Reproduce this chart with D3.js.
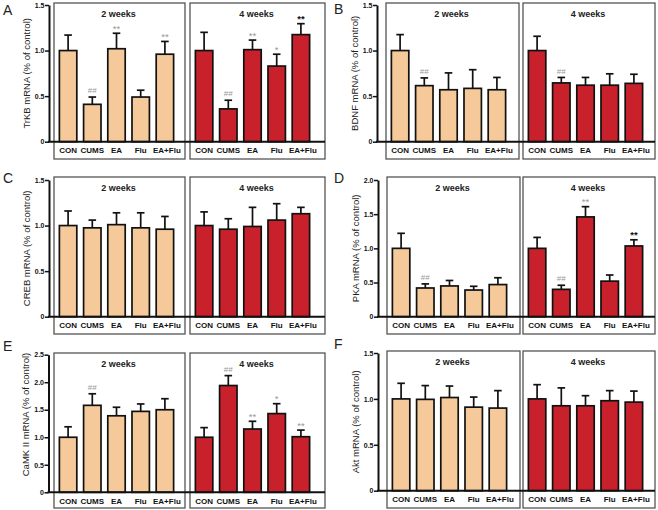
<!DOCTYPE html>
<html><head><meta charset="utf-8">
<script src="https://cdn.jsdelivr.net/npm/d3@7/dist/d3.min.js"></script>
<style>
html,body{margin:0;padding:0;background:#fff;}
svg{display:block;font-family:"Liberation Sans",Arial,sans-serif;}
</style></head>
<body><svg id="chart" width="658" height="510"></svg>
<script>
// ---------- data ----------
const categories = ["CON","CUMS","EA","Flu","EA+Flu"];
const groups = ["2 weeks","4 weeks"];
const panelLetters = ["A","B","C","D","E","F"];
const yLabels = ["TrKB mRNA (% of control)","BDNF mRNA (% of control)","CREB mRNA (% of control)",
                 "PKA mRNA (% of control)","CaMK II mRNA (% of control)","Akt mRNA (% of control)"];
const yMax = [1.5, 1.5, 1.5, 2.0, 2.5, 1.5];
const tickLabels = [
  ["0","0.5","1.0","1.5"],["0","0.5","1.0","1.5"],["0","0.5","1.0","1.5"],
  ["0","0.5","1.0","1.5","2.0"],["0","0.5","1.0","1.5","2.0","2.5"],["0","0.5","1.0","1.5"]];

// means and SEM (upper error) – 2 weeks / 4 weeks
const trkbMean2 = [1.00,0.41,1.02,0.49,0.96], trkbSem2 = [0.17,0.08,0.17,0.075,0.14];
const trkbMean4 = [1.00,0.36,1.01,0.83,1.175], trkbSem4 = [0.20,0.095,0.105,0.13,0.12];
const bdnfMean2 = [1.00,0.615,0.57,0.585,0.57], bdnfSem2 = [0.175,0.085,0.185,0.205,0.135];
const bdnfMean4 = [1.00,0.645,0.62,0.62,0.64], bdnfSem4 = [0.157,0.06,0.085,0.125,0.10];
const crebMean2 = [1.00,0.975,1.01,0.975,0.96], crebSem2 = [0.16,0.085,0.13,0.165,0.14];
const crebMean4 = [1.00,0.96,0.99,1.06,1.13], crebSem4 = [0.15,0.115,0.21,0.18,0.07];
const pkaMean2 = [1.00,0.42,0.45,0.39,0.47], pkaSem2 = [0.22,0.06,0.08,0.055,0.10];
const pkaMean4 = [1.00,0.40,1.46,0.52,1.035], pkaSem4 = [0.16,0.06,0.15,0.09,0.09];
const camkMean2 = [1.00,1.58,1.39,1.47,1.50], camkSem2 = [0.19,0.21,0.155,0.135,0.20];
const camkMean4 = [1.00,1.94,1.15,1.43,1.01], camkSem4 = [0.175,0.18,0.14,0.18,0.12];
const aktMean2 = [1.00,0.995,1.015,0.91,0.90], aktSem2 = [0.17,0.15,0.125,0.11,0.19];
const aktMean4 = [1.00,0.925,0.925,0.98,0.965], aktSem4 = [0.155,0.195,0.11,0.11,0.12];

// significance marks
const trkbSig2 = ["","##","**","","**"], trkbSig4 = ["","##","**","*","**"];
const bdnfSig2 = ["","##","","",""],   bdnfSig4 = ["","##","","",""];
const crebSig2 = ["","","","",""],     crebSig4 = ["","","","",""];
const pkaSig2  = ["","##","","",""],   pkaSig4  = ["","##","**","","**"];
const camkSig2 = ["","##","","",""],   camkSig4 = ["","##","**","*","**"];
const aktSig2  = ["","","","",""],     aktSig4  = ["","","","",""];
// marks printed in black instead of grey: [panel, group, category]
const darkMarks = [["A",1,4],["D",1,4]];

const means = [[trkbMean2,trkbMean4],[bdnfMean2,bdnfMean4],[crebMean2,crebMean4],
               [pkaMean2,pkaMean4],[camkMean2,camkMean4],[aktMean2,aktMean4]];
const sems  = [[trkbSem2,trkbSem4],[bdnfSem2,bdnfSem4],[crebSem2,crebSem4],
               [pkaSem2,pkaSem4],[camkSem2,camkSem4],[aktSem2,aktSem4]];
const sigs  = [[trkbSig2,trkbSig4],[bdnfSig2,bdnfSig4],[crebSig2,crebSig4],
               [pkaSig2,pkaSig4],[camkSig2,camkSig4],[aktSig2,aktSig4]];

// ---------- layout ----------
const groupColors = ["#F5C99A","#C8212B"];
const layout = [
  {axisX:49,  y0:141.7, yTop:5,     boxTop:3,   boxBot:159, box:[[54,185],[190,325]], letter:[3,15],  labelDy:0},
  {axisX:377, y0:141.7, yTop:5,     boxTop:3,   boxBot:159, box:[[386,519],[523,655]], letter:[334,14], labelDy:0},
  {axisX:49,  y0:316.7, yTop:180,   boxTop:177, boxBot:334, box:[[54,185],[190,325]], letter:[3,183], labelDy:0},
  {axisX:378, y0:316.7, yTop:180,   boxTop:177, boxBot:334, box:[[387,520],[523,655]], letter:[334,183], labelDy:0},
  {axisX:48.5,y0:492.3, yTop:354.7, boxTop:353, boxBot:508, box:[[54,185],[190,325]], letter:[3,351], labelDy:-9},
  {axisX:378, y0:490.7, yTop:353,   boxTop:351, boxBot:508, box:[[387,520],[523,655]], letter:[334,349], labelDy:0}
];

const svg = d3.select("#chart");

layout.forEach((L, p) => {
  const g = svg.append("g");
  const y = d3.scaleLinear().domain([0, yMax[p]]).range([L.y0, L.yTop]);

  // group boxes
  L.box.forEach((b, gi) => {
    g.append("rect").attr("x", b[0]).attr("y", L.boxTop)
      .attr("width", b[1]-b[0]).attr("height", L.boxBot-L.boxTop)
      .attr("fill","none").attr("stroke","#555").attr("stroke-width",1.3);
    g.append("text").attr("x", (b[0]+b[1])/2 - 1).attr("y", L.boxTop + 13.5)
      .attr("text-anchor","middle").attr("font-size",9).attr("font-weight","bold")
      .attr("fill","#222").text(groups[gi]);

    const x = d3.scaleBand().domain(categories).range([b[0]+2, b[0]+123])
      .paddingInner(0.28).paddingOuter(0.14);
    const data = categories.map((c,i) => ({c, m: means[p][gi][i], s: sems[p][gi][i], sig: sigs[p][gi][i], i}));

    g.selectAll(null).data(data).enter().append("rect")
      .attr("x", d => x(d.c)).attr("width", x.bandwidth())
      .attr("y", d => y(d.m)).attr("height", d => L.y0 - y(d.m))
      .attr("fill", groupColors[gi]).attr("stroke","#111").attr("stroke-width",1.7);

    // error bars
    g.selectAll(null).data(data).enter().append("line")
      .attr("x1", d => x(d.c)+x.bandwidth()/2).attr("x2", d => x(d.c)+x.bandwidth()/2)
      .attr("y1", d => y(d.m)).attr("y2", d => y(d.m+d.s))
      .attr("stroke","#111").attr("stroke-width",1.7);
    g.selectAll(null).data(data).enter().append("line")
      .attr("x1", d => x(d.c)+x.bandwidth()/2-3.8).attr("x2", d => x(d.c)+x.bandwidth()/2+3.8)
      .attr("y1", d => y(d.m+d.s)).attr("y2", d => y(d.m+d.s))
      .attr("stroke","#111").attr("stroke-width",1.7);

    // significance
    g.selectAll(null).data(data.filter(d => d.sig)).enter().append("text")
      .attr("x", d => x(d.c)+x.bandwidth()/2)
      .attr("y", d => y(d.m+d.s) - (d.sig.startsWith("#") ? 3.8 : 1.5))
      .attr("text-anchor","middle")
      .attr("font-size", d => d.sig.startsWith("#") ? 8 : 9.5)
      .attr("font-weight", d => darkMarks.some(m => m[0]===panelLetters[p] && m[1]===gi && m[2]===d.i) ? "bold" : "normal")
      .attr("fill", d => darkMarks.some(m => m[0]===panelLetters[p] && m[1]===gi && m[2]===d.i) ? "#111" : "#999")
      .text(d => d.sig);

    // category labels
    g.selectAll(null).data(categories).enter().append("text")
      .attr("x", c => x(c)+x.bandwidth()/2 + (c==="EA+Flu" ? 2 : 0)).attr("y", L.y0 + 11.5)
      .attr("text-anchor","middle").attr("font-size",8).attr("font-weight","bold")
      .attr("fill","#111").text(c => c);
  });

  // y axis
  const tv = tickLabels[p].map(Number);
  const ax = g.append("g").attr("transform", `translate(${L.axisX},0)`)
    .call(d3.axisLeft(y).tickValues(tv).tickFormat((d,i) => tickLabels[p][i]).tickSize(4).tickSizeOuter(0));
  ax.select(".domain").attr("stroke","#111").attr("stroke-width",2);
  ax.selectAll(".tick line").attr("stroke","#111").attr("stroke-width",1.5);
  ax.selectAll(".tick text").attr("font-size",7).attr("font-weight","bold").attr("fill","#111")
    .attr("font-family","'Liberation Sans',Arial,sans-serif").attr("x",-4.5);

  // x baseline
  g.append("line").attr("x1", L.axisX-1).attr("x2", L.box[1][1])
    .attr("y1", L.y0).attr("y2", L.y0).attr("stroke","#111").attr("stroke-width",2);

  // y label
  g.append("text")
    .attr("transform", `translate(${L.axisX-22},${(L.y0+L.yTop)/2 + L.labelDy}) rotate(-90)`)
    .attr("text-anchor","middle").attr("dominant-baseline","middle")
    .attr("font-size",9.5).attr("fill","#222").text(yLabels[p]);

  // panel letter
  g.append("text").attr("x", L.letter[0]).attr("y", L.letter[1])
    .attr("font-size",14).attr("fill","#222").text(panelLetters[p]);
});
</script></body></html>
